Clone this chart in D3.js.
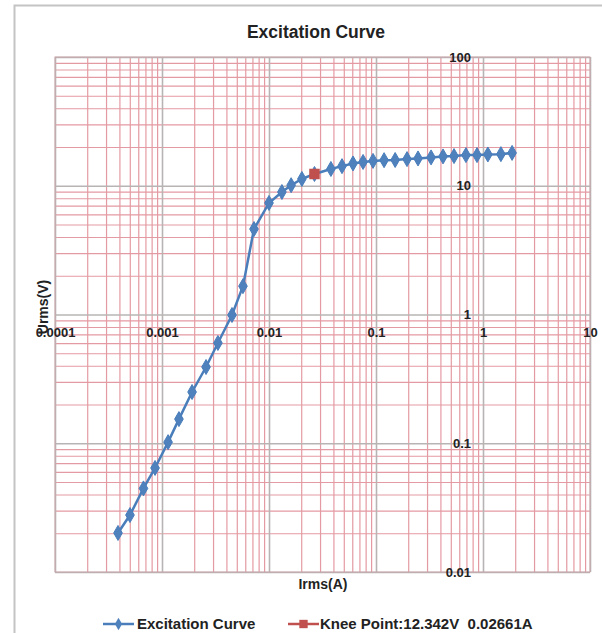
<!DOCTYPE html>
<html>
<head>
<meta charset="utf-8">
<script src="https://cdn.jsdelivr.net/npm/d3@7"></script>
<style>
  body { margin: 0; background: #fff; }
  text { font-family: "Liberation Sans", Arial, sans-serif; font-weight: bold; fill: #222; }
</style>
</head>
<body>
<div id="chart-area"></div>
<script>
// Excitation curve data
var irms = [0.000388, 0.000502, 0.000671, 0.000861, 0.00114, 0.00144, 0.00191, 0.00258,
            0.00333, 0.00451, 0.00571, 0.00724, 0.0100, 0.0132, 0.0161, 0.0203, 0.02661,
            0.0379, 0.0481, 0.0610, 0.0757, 0.0938, 0.119, 0.151, 0.195, 0.247, 0.327,
            0.423, 0.536, 0.693, 0.879, 1.11, 1.47, 1.87];
var urms = [0.0201, 0.0277, 0.0446, 0.0643, 0.102, 0.154, 0.250, 0.391,
            0.601, 0.991, 1.66, 4.61, 7.35, 8.94, 10.1, 11.3, 12.342,
            13.5, 14.2, 14.9, 15.3, 15.6, 15.8, 15.85, 16.1, 16.3, 16.6,
            16.9, 17.0, 17.3, 17.3, 17.5, 17.6, 18.0];
var kneeI = [0.02661];
var kneeU = [12.342];

var xTickValues = [0.0001, 0.001, 0.01, 0.1, 1, 10];
var xTickLabels = ["0.0001", "0.001", "0.01", "0.1", "1", "10"];
var yTickValues = [0.01, 0.1, 1, 10, 100];
var yTickLabels = ["0.01", "0.1", "1", "10", "100"];

var margin = {left:55, right:12, top:57, bottom:61};
var width = 602 - margin.left - margin.right;
var height = 633 - margin.top - margin.bottom;

var svg = d3.select("#chart-area").append("svg")
    .attr("width", 602)
    .attr("height", 633);

// outer chart frame
svg.append("rect")
    .attr("x", 14.5).attr("y", 5.5)
    .attr("width", 640).attr("height", 700)
    .attr("fill", "none")
    .attr("stroke", "#c4c4c4")
    .attr("stroke-width", 2);

svg.append("text")
    .attr("x", 316)
    .attr("y", 38)
    .attr("font-size", "17.5px")
    .attr("text-anchor", "middle")
    .text("Excitation Curve");

var g = svg.append("g")
    .attr("transform", "translate(" + margin.left + "," + margin.top + ")");

var x = d3.scaleLog().domain([0.0001, 10]).range([0, width]);
var y = d3.scaleLog().domain([0.01, 100]).range([height, 0]);

var minorX = x.ticks().filter(function(d){ return xTickValues.indexOf(d) < 0; });
var minorY = y.ticks().filter(function(d){ return yTickValues.indexOf(d) < 0; });

// minor grid
var gx = g.append("g").attr("class", "grid")
    .attr("transform", "translate(0," + height + ")")
    .call(d3.axisBottom(x).tickValues(minorX).tickSize(-height).tickFormat(""));
gx.selectAll("line").attr("stroke", "#e49aa2").attr("stroke-width", 1.2);

var gy = g.append("g").attr("class", "grid")
    .call(d3.axisLeft(y).tickValues(minorY).tickSize(-width).tickFormat(""));
gy.selectAll("line").attr("stroke", "#e49aa2").attr("stroke-width", 1.2);

// major grid
var gx2 = g.append("g").attr("class", "grid")
    .attr("transform", "translate(0," + height + ")")
    .call(d3.axisBottom(x).tickValues(xTickValues).tickSize(-height).tickFormat(""));
gx2.selectAll("line").attr("stroke", "#b8b4b4").attr("stroke-width", 1.6);

var gy2 = g.append("g").attr("class", "grid")
    .call(d3.axisLeft(y).tickValues(yTickValues).tickSize(-width).tickFormat(""));
gy2.selectAll("line").attr("stroke", "#b8b4b4").attr("stroke-width", 1.6);

g.selectAll(".grid .domain").remove();

g.append("rect")
    .attr("width", width).attr("height", height)
    .attr("fill", "none")
    .attr("stroke", "#c9a6aa");

// axes crossing at 1
var xAxisCall = d3.axisBottom(x)
    .tickValues(xTickValues)
    .tickSize(0)
    .tickPadding(13)
    .tickFormat(function(d, i){ return xTickLabels[i]; });
g.append("g")
    .attr("class", "x axis")
    .attr("transform", "translate(0," + y(1) + ")")
    .call(xAxisCall);

var yAxisCall = d3.axisLeft(y)
    .tickValues(yTickValues)
    .tickSize(0)
    .tickPadding(12)
    .tickFormat(function(d, i){ return yTickLabels[i]; });
g.append("g")
    .attr("class", "y axis")
    .attr("transform", "translate(" + x(1) + ",0)")
    .call(yAxisCall);

g.selectAll(".axis .domain").remove();
g.selectAll(".axis text")
    .attr("font-size", "13px")
    .attr("font-family", "Liberation Sans, Arial, sans-serif")
    .attr("fill", "#222");

// axis titles
svg.append("text")
    .attr("x", 323)
    .attr("y", 589)
    .attr("font-size", "14px")
    .attr("text-anchor", "middle")
    .text("Irms(A)");

svg.append("text")
    .attr("x", -307)
    .attr("y", 48)
    .attr("font-size", "14px")
    .attr("text-anchor", "middle")
    .attr("transform", "rotate(-90)")
    .text("Urms(V)");

// curve
var line = d3.line()
    .x(function(d){ return x(d[0]); })
    .y(function(d){ return y(d[1]); });

var pts = irms.map(function(d, i){ return [d, urms[i]]; });

g.append("path")
    .datum(pts)
    .attr("d", line)
    .attr("fill", "none")
    .attr("stroke", "#4a7ebb")
    .attr("stroke-width", 2.5);

var diamond = d3.symbol().type(d3.symbolDiamond).size(65);
g.selectAll(".pt")
    .data(pts)
    .enter()
    .append("path")
    .attr("class", "pt")
    .attr("d", diamond)
    .attr("transform", function(d){ return "translate(" + x(d[0]) + "," + y(d[1]) + ")"; })
    .attr("fill", "#4f81bd")
    .attr("stroke", "#4a7ebb");

var square = d3.symbol().type(d3.symbolSquare).size(110);
g.selectAll(".knee")
    .data(kneeI)
    .enter()
    .append("path")
    .attr("class", "knee")
    .attr("d", square)
    .attr("transform", function(d, i){ return "translate(" + x(d) + "," + y(kneeU[i]) + ")"; })
    .attr("fill", "#c0504d");

// legend
var legend = svg.append("g").attr("transform", "translate(0,624)");
legend.append("line").attr("x1", 103).attr("x2", 134).attr("y1", 0).attr("y2", 0)
    .attr("stroke", "#4a7ebb").attr("stroke-width", 2.5);
legend.append("path").attr("d", d3.symbol().type(d3.symbolDiamond).size(45))
    .attr("transform", "translate(118.5,0)")
    .attr("fill", "#4f81bd");
legend.append("text").attr("x", 137).attr("y", 5).attr("font-size", "15px")
    .text("Excitation Curve");

legend.append("line").attr("x1", 288).attr("x2", 319).attr("y1", 0).attr("y2", 0)
    .attr("stroke", "#c0504d").attr("stroke-width", 2.5);
legend.append("path").attr("d", d3.symbol().type(d3.symbolSquare).size(70))
    .attr("transform", "translate(303.5,0)")
    .attr("fill", "#c0504d");
legend.append("text").attr("x", 320).attr("y", 5).attr("font-size", "15px")
    .style("white-space", "pre")
    .text("Knee Point:12.342V  " + kneeI[0] + "A");
</script>
</body>
</html>
